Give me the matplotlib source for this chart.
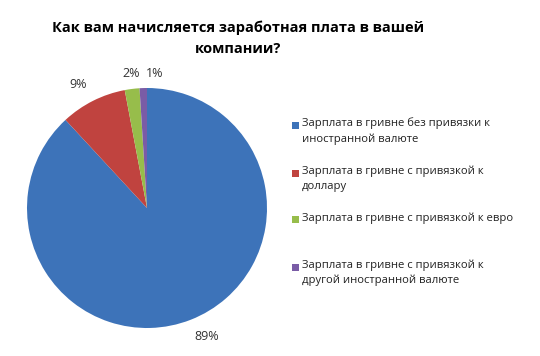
import matplotlib
matplotlib.use("Agg")
import matplotlib.pyplot as plt
from matplotlib.patches import Rectangle

title = "Как вам начисляется заработная плата в вашей\nкомпании?"
categories = [
    "Зарплата в гривне без привязки к\nиностранной валюте",
    "Зарплата в гривне с привязкой к\nдоллару",
    "Зарплата в гривне с привязкой к евро",
    "Зарплата в гривне с привязкой к\nдругой иностранной валюте",
]
values = [89, 9, 2, 1]
labels = ["89%", "9%", "2%", "1%"]
colors = ["#3d73b9", "#c0433f", "#97bd4b", "#7a5ca6"]

fig = plt.figure(figsize=(5.4, 3.56), dpi=100)
fig.patch.set_facecolor("white")

# pie axes: center ~ (147, 208) px, radius ~120 px
cx, cy, r = 147, 208, 120
W, H = 540, 356
ax = fig.add_axes([(cx - r) / W, 1 - (cy + r) / H, 2 * r / W, 2 * r / H])
wedges, texts = ax.pie(values, colors=colors, startangle=90, counterclock=False,
                       labels=labels, labeldistance=1.09,
                       textprops=dict(fontsize=9, color="#333333", family="Open Sans"),
                       wedgeprops=dict(linewidth=0))
ax.set_aspect("equal")
ax.set_xlim(-1, 1)
ax.set_ylim(-1, 1)

# label placement like the reference (outside end)
label_pos = [(0.50, -1.07), (-0.57, 1.03), (-0.13, 1.12), (0.06, 1.12)]
for t, p in zip(texts, label_pos):
    t.set_position(p)
    t.set_ha("center")
    t.set_va("center")

fig.text(238 / W, 1 - 38 / H, title, ha="center", va="center", fontsize=10.5,
         fontweight="bold", family="Open Sans", linespacing=1.6)

ys = [125, 173, 220, 267]
for c, lab, y in zip(colors, categories, ys):
    fig.patches.append(Rectangle((292 / W, 1 - (y + 3.5) / H), 7 / W, 7 / H,
                                 transform=fig.transFigure, facecolor=c,
                                 edgecolor="none"))
    fig.text(302 / W, 1 - (y - 7.5) / H, lab, ha="left", va="top", fontsize=8.1,
             family="Open Sans", color="#222222", linespacing=1.45)

fig.savefig("out.png", dpi=100, facecolor="white")
